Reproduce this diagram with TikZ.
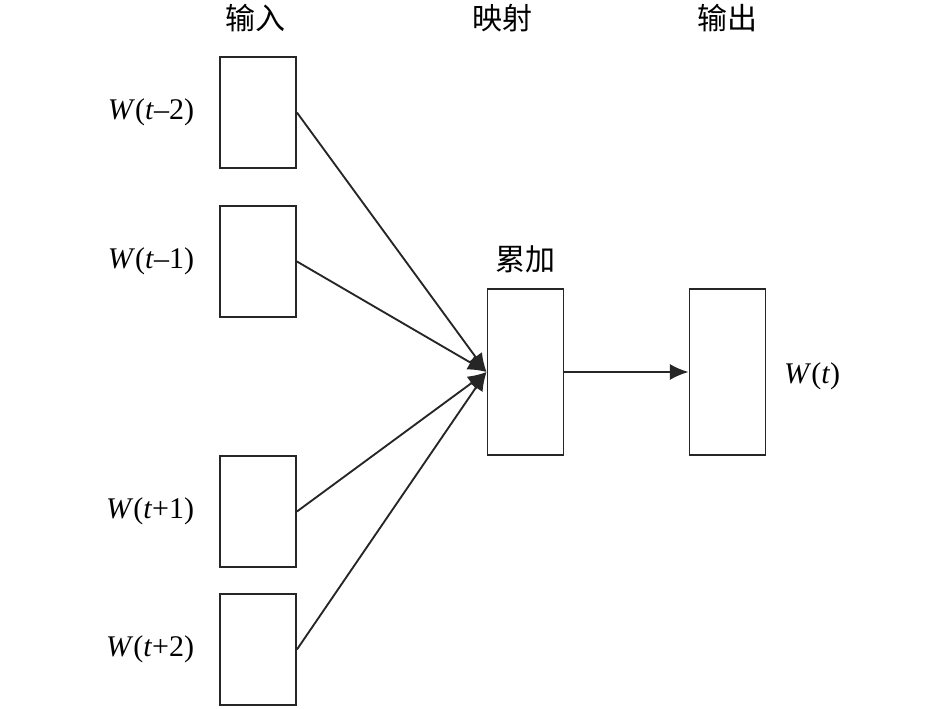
\documentclass[tikz,border=0pt]{standalone}
\usepackage{fontspec}
\setmainfont{Liberation Serif}
\newfontfamily\cjk{Noto Sans CJK SC}
\usetikzlibrary{positioning,arrows.meta}

\begin{document}
\begin{tikzpicture}[x=0.75pt,y=-0.75pt,font=\fontsize{22.5}{26}\selectfont,
		lbl/.style={inner sep=0pt},
		conn/.style={-{Latex[length=14pt,width=12pt]},line width=1.4pt,draw=black!85}]
	\useasboundingbox (0,0) rectangle (945,709);

	\node[lbl] (inHead) at (255,18) {\cjk 输入};
	\node[lbl] (projHead) at (502,18) {\cjk 映射};
	\node[lbl] (outHead) at (727,18) {\cjk 输出};

	\begin{scope}[every node/.style={rectangle,draw=black!85,line width=1.4pt,minimum width=57pt,minimum height=83pt,inner sep=0pt}]
		\node (in1) at (258,112.5) {};
		\node (in2) at (258,261.5) {};
		\node (in3) at (258,511.5) {};
		\node (in4) at (258,649.5) {};
		\node[minimum height=124.5pt] (sum) at (525.5,372) {};
		\node[minimum height=124.5pt] (out) at (727.5,372) {};
	\end{scope}

	\node[lbl,left=18.5pt of in1] (w1) {\textit{W}(\textit{t}–2)};
	\node[lbl,left=18.5pt of in2] (w2) {\textit{W}(\textit{t}–1)};
	\node[lbl,left=18.5pt of in3] (w3) {\textit{W}(\textit{t}+1)};
	\node[lbl,left=18.5pt of in4] (w4) {\textit{W}(\textit{t}+2)};
	\node[lbl,above=11pt of sum] (sumLbl) {\cjk 累加};
	\node[lbl,right=13pt of out,yshift=-3pt] (wt) {\textit{W}(\textit{t})};

	\draw[conn] (in1.east) -- (sum.west);
	\draw[conn] (in2.east) -- (sum.west);
	\draw[conn] (in3.east) -- (sum.west);
	\draw[conn] (in4.east) -- (sum.west);
	\draw[conn] (sum.east) -- (out.west);
\end{tikzpicture}
\end{document}
